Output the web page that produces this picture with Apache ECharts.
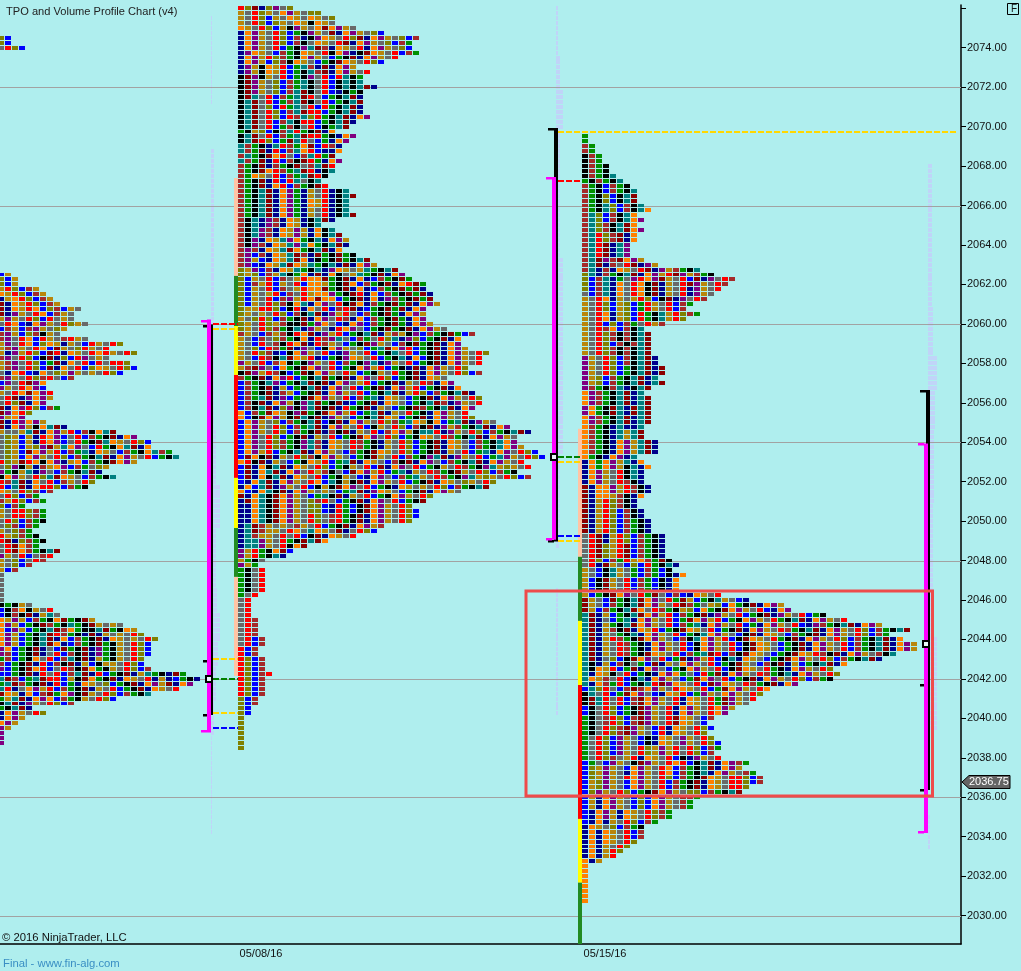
<!DOCTYPE html>
<html><head><meta charset="utf-8">
<style>html,body{margin:0;padding:0;background:#afeeee}#c{width:1021px;height:971px}</style>
<script src="https://cdn.jsdelivr.net/npm/echarts@6/dist/echarts.min.js"></script>
</head><body><div id="c"></div>
<script>
// ---- axis content
const priceLabels = [2030,2032,2034,2036,2038,2040,2042,2044,2046,2048,2050,2052,2054,2056,2058,2060,2062,2064,2066,2068,2070,2072,2074];
const priceTicks = priceLabels.concat([2076]);
const gridPrices = [2030,2036,2042,2048,2054,2060,2066,2072];
const dateLabels = ['05/08/16','05/15/16'];
const datePositions = [261,605];
const lastPrice = 2036.75;

// ---- TPO letter colours (the cycle of periods)
const letters = 'gktmnOpGyroBb';
const letterColours = ['#009000','#000000','#008080','#8b0000','#00008b','#ff8000','#800080','#b8860b','#696969','#ff0000','#808000','#0000ff','#a52a2a'];

// ---- profile A (left, cut by the edge)
const widthsA0 = [2,2,4];
const bandsA0 = {0:'oB',2:'yroB'};
const widthsA = [2,3,3,6,7,8,9,12,11,11,13,10,9,13,18,16,20,16,19,20,18,11,7,7,8,8,7,9,5,4,7,10,17,20,22,22,25,26,20,16,15,17,14,13,8,6,7,4,7,7,7,6,5,6,7,6,9,8,7,5,3,1,1,1,1,1,1,
  5,8,9,14,18,20,21,23,22,22,22,21,21,22,27,29,28,26,22,17,11,5,7,4,3,2,1,1,1];
const bandsA = {0:'BG',1:'oBG',3:'GroBbG',4:'OGroBbG',5:'nGOroBbG',6:'mnOGroBbG',7:'mnOGrOBobBGy',8:'mnpGyrOBbGyr',9:'GpGyroBryGyr',10:'yrOBnOpGyroG',
 11:'BbGBbpGyoG',12:'bpGBobkGyG',13:'bpyrOBrGybrG',14:'GpyrOBoOGnGyBrG',15:'GbpGyrOBmGyorG',16:'GnpGroBmrnOGyrOrGy',17:'bpyroBkmnoBrpyG',18:'GbpyroBgmnOyrBryrr',
 19:'GbpyroBmnOyrBoOGyr',20:'ynOrBnOyoGpGyGyr',21:'bpGyrobryB',22:'BpyrmpOr',23:'pGyrOpBr',24:'GyrOmOpr',25:'yrmnpO',26:'yromnOpr',27:'mnOpr',28:'mpOr',29:'pGO',30:'mnrpOp',31:'mnOpGkOt',
 32:'GyyGtmnOpGrBbkOt',33:'yoGBGnrOpByrBbgkmnO',34:'yoGBGnrOpByrgkmtOG',35:'yoGBGopmGtOpyBrgkOt',36:'yoGBmOpGrBbgtnOGyBbgkOtb',37:'yoGBOpGyroBbgktmnOpGyrBg',38:'roGmrOkOpnGOBbgkmO',39:'yopkGnbGOpBbgyoG',40:'pgkGtnpyBbgkt',41:'kOpGyrotmOGyB',42:'rbtmnOyrBbG',43:'rBtmnOrroBb',44:'OGyrobB',45:'yroBb',46:'bGroBb',47:'oBb',48:'Gyrrob',50:'yroBb',51:'yobB',
 52:'Gyob',53:'rGob',54:'rmnob',55:'yrmOb',57:'pGyrBybr',58:'GyoByrb',59:'GyoBb',60:'GB',61:'y',
 67:'kgkGy',68:'BkbOkGy',69:'BkbkmnGty',70:'OGpGBbgkOmgkmGy',71:'OpGBgkmbgktgkmGyG',72:'OBpGBgktmbOgkktmgkOGy',73:'OpGBgktmrbgknmnGyG',74:'OpGBgktmnOBbgkmnOGyG',
 75:'OpGBgktmOnBbgkmgkGy',76:'pOBgkmnyBmgkmnpgkGy',77:'pbBgkmnyrBbkmnpgkGy',78:'gbBgkOyrBbtkmnGgkG',79:'bBgkmnrBbkmnGBkGG',80:'pBgkmOrByrbkmOgkGy',81:'BBgkmnryrBbtmnrBgkmnGtgknmgktmn',82:'tmbBgtmrrBGkmOgkmnOGyrnGnBgknG',83:'gtmbgkmnrBgnOGyoBgkmnOpGmnO',84:'trnyOpGrBbgkmnGyrBgkmnOG',85:'mOGnOBbmgOpkmG',86:'gGtmnOpOBbgkG',87:'ktmnp',88:'gktmnOp',89:'nOp',90:'nOp',91:'Op',92:'p'};

// ---- profile B (05/08/16)
const widthsB = [8,12,14,14,17,21,26,25,25,26,23,21,17,19,18,18,20,18,18,18,18,18,19,17,16,14,17,16,15,15,14,15,14,14,13,12,13,16,17,16,
 16,16,17,14,12,14,15,16,16,15,17,19,20,23,24,25,27,27,28,28,29,27,27,27,28,30,34,32,32,33,36,35,35,33,35,30,31,32,34,35,35,34,33,34,37,39,42,40,40,41,43,44,41,42,40,42,37,36,32,28,27,25,26,26,25,21,20,17,13,10,8,7,4,3,4,4,4,4,4,3,2,2,2,
 2,3,3,3,3,4,4,3,3,4,4,4,5,4,4,4,4,3,3,2,2,1,1,1,1,1,1,1];
const bandsB = {0:'romnopyo',1:'GyroGyOpGyoo',2:'GyroBGyOGyOGyo',3:'GyroBoGyOGkOGyo',4:'OGyroBGkpGyOmOpGyo',5:'nOpGyroBgkpGymnOpGyo',6:'nOpGyroBbnkpOGyromnOpGyoB',7:'nOpGyroBbkyOGyrmnOpGyoBb',8:'nOpGyrBgkptmbnOGyrnOpGyoB',9:'npOGyBbgkOGyrkOpnkmOGyrB',10:'nOpGrobgkOpGyBgkmnOpGyr',11:'nOpGBobkOGyBgkmOGyr',12:'npGkOGrBgtbnmnOpGy',13:'npGkOGrBgktbmnOpGyr',14:'kmpkGyrBgkpyrBrtkg',15:'kmpGyoBbgtkyrBktk',
 17:'kmpGyoBbtmkyrBnkg',18:'kmtyrBbgtmryBgkt',19:'ktmyrBgbtmkyrBgkt',20:'ktmyoBrgtyrBrgkt',21:'ktmyroBbtmrrBgkt',22:'ktmyroBrbtorgkt',23:'ktmyrBbtkrrBgk',24:'ktmyrBgbkyrBkgt',25:'gkGoBkbtrgkmn',26:'ktmyrBbgtmrrgkn',27:'ktmroBgmtryBgn',28:'tbgkntrbgOmBrbnn',29:'tbgmnrBbtOrBnn',30:'btgkmOryBbtrgmn',31:'tbgmnrBbkmrgn',32:'bgkmnbgkmybtmrnk',33:'bgkmOrbgtmrnk',34:'bgOGyrBbgtmrk',35:'bgkmnrBrtyk',36:'bgkmnOrBbgkmrnk',
 37:'bgktmnOpgnGyrnk',39:'bgktmnOpgnOGrnk',41:'bgktmnOpgnGyrnk',43:'bktnpbnOGnkt',44:'bktnpbnOGnkt',45:'bktpbnOGpGnOkt',47:'bkpnOGtpOgktn',48:'bkpbnOGtptOgkt',49:'bpbnOGtmOgkt',50:'bpBbnOGtmbnmgkmg',51:'bpGBnOGtmOnkgkmg',52:'bpBnOGtmOGtgktnm',53:'oGpBbnOGtgktnpOGyGtgk',54:'oGoBbGtkgOnmnOkyGtgkm',55:'oBGyrBbyGrOOmgkmnOnBbgkmgmn',56:'oBbGrBGyrBOOGgkmOBbgkmnOrmgmn',57:'oBGyrBbyGrOOmgkmnOnBbgkmgmn',58:'oBGyGrBbyrGOOpgkmrnOBbgkmgmnn',59:'oBGyrBbpGrOmOOBgkmnOnpbgkmgmnn',60:'oBGyrobkOtnOpyrkmOnbgkmgmn',61:'oGGrroBkrnOyrBbrmnBgkmgmn',62:'oGyGyroBbktmnpGryBbgkmgn',63:'GyoroBbgkmnOpyrbnOBbgkmgn',64:'oGyroGbkkmgpOyBnOpBbgkmgn',65:'oGyrobgktnpGynrOpyBgkmgkmnO',
 66:'bGyBbGbkrOmnpGrBgktmnGbGkpBbgkmgBbgkmn',67:'GyBbyobgkOnrbptyBbgyrotnpoBgkmn',68:'GyBrybkrOmnrbGyBgkmpGyBbkmgkmn',69:'GyoBrbgmnpyBkOpGyoBgtmOprBgkmnO',70:'GyrobnBkOpGyrBnpGyrBgktyrBgkmnOp',71:'GyBrbktmOGrnBgkpOGyrBgktnOBkmnOp',72:'pGyrBbOkgkpGyrBbgkptnpGyrBgkmnOp',73:'GbmpyBOgkmOpyrBgkOpGrBgknmnOp',74:'kmpGrbkBgmkOpGyroBgkGyrgkmnOp',75:'bgkmnOprBgktmgkmnOpyroBgkmnOGyrBnm',76:'BbgktpBgktmkmnOpyGrBgkmnGyrbn',77:'BbgkmnGBgktmnOpyrBgkmnOpGrBgkmn',78:'BbgkmnbGBgkmnOpGyrBgktmnGroBbgktm',79:'BbgtmnpBgkmOpGyrBbgtnOGyBgkmnO',80:'BbkmnOpGkptmgkmnBgkmnOGyBgktmbnp',81:'Bbktmnopkptmkmnrgkmn GyBgkmb'.replace(' ',''),82:'OBbgmOGkpmgkmOpGrBgtmnGyrgkn',83:'OBkmOpGkmtkmnpGyBgktmOGBgkmnOp',
 84:'BOpGyoBbgktmBkmnOpGyrobgtOGkOBgtmnpG',85:'BOpGyroBbgtmnOpGyrBkGyroBbkmnpGb',86:'BOpGyroBbgkmnbkmnGyrBbOpGkttrnpG',87:'BOpyroBgkmnGyrBgkmOpyroBgkOGyrb',88:'BOpyrobgkptbnOGyrbgknGyroBgkmnOGyBbgktOpG',90:'BOpGrBgktmnOpGyBbgkmOGyroBgkmnGyrBgtnOpy',91:'BmOkmnGyrobkOpGyBgkmGyrBbgkptmnpGyrBgtpGy',92:'OrkmnGyBgkOGrBgtmnOGyBbkmnOpyB',93:'BmnOktmnOGyroBgkGyrBmnOpyrBgkGyrbgkptGoG',94:'BmnOtmnOpyrGbkyBmOpGrBgtnGyrbgkmG',95:'BmnOktmnOGyrBgkGyBnOpyBbgtGyrbgkptGoG',96:'BnOtmnOpGyrOBtkGkmnOpGyrBgkmnOGyoG',97:'nOBtmnpGyrBkGkmOpyrBgknOGyG',98:'OBnOtkmnOpGyGyBgtmnpOGyBgkmnOpGyrot',99:'mnOtkmOpGyBgtkmnGyrBgkOpGy',100:'nmOtkmOpGyobryBgkmnOpyrBgkmOp',101:'nnOtkmOpGyooBnrgBkmOpGy',103:'nnOtkmOpGyroybrgkmnOpGy',105:'ntmbGyGybGyrBgkmnOpGby',106:'ntmbGGyrOytOGymny',107:'ntbGGyryrBkmnOGy',108:'nttpGyrgkmtmOGy',109:'nttpGyrkOm',110:'pGrgkOmBOr',111:'pGrgktnBy',112:'Ggky',113:'pGgk',114:'gkyr',119:'gyr',120:'yr',124:'yrb',128:'yrBb',130:'rBb',132:'roBb',135:'roBbr',136:'roBb',140:'oBb',142:'oB',144:'o'};

// ---- profile C (05/15/16)
const widthsC = [1,1,2,2,3,3,4,4,5,6,7,8,8,8,9,10,8,9,8,9,8,8,7,7,7,9,11,17,19,22,21,20,19,18,16,15,17,15,
 12,9,10,10,10,10,10,11,11,12,12,11,12,10,9,10,10,10,10,10,10,9,9,9,11,11,11,8,9,10,9,9,9,10,10,9,8,8,9,9,10,10,10,12,12,12,12,12,13,14,13,15,14,14,14,
 20,24,29,30,35,38,43,47,44,46,48,48,45,43,38,36,37,36,31,27,26,25,24,22,21,19,18,19,18,19,20,20,19,20,24,23,25,26,26,24,23,17,16,16,13,13,11,9,9,9,8,7,6,5,3,1,1,1,1,1,1,1,1];
const bandsC = {0:'g',2:'bg',4:'kbg',6:'kbgk',8:'kbgkt',9:'gkbgkt',10:'bgkBbgkt',12:'bgkoBkt',14:'bgktoBbktt',15:'bgktoBbktO',16:'btoBbktO',18:'btobktmO',20:'btrobmnO',22:'btrmntp',25:'btmpbmOp',26:'btmnbyrmnpG',27:'btnbnOGyrmnpGb',28:'otnbgktmnOpGrmpGb',29:'oBbtngyprOpmGyrBmnpyrb',30:'oBbtnOyrOkmnGyrmpGyrb',31:'oBbtnOyrOkmnGyrnpGyr',32:'yBbtnOyrOkmnGyrnpGyrb',33:'GyrOnGyGroBkmnpyrb',34:'GyroBGoBgrGyrBb',36:'GyrOnGoBrgktGrob',38:'GyrBoBbgyrGb',39:'GyrbOBbkt',40:'Gyrobkbktmn',42:'GyroBbkbtmn',43:'Gyrobkbktmn',45:'pGyroBbktmn',47:'pGyroBgktmnm',49:'pGoBbgktmntm',51:'pbgkbtnktm',52:'Opbgktmnt',53:'Opbgktmntm',55:'pOgkmtnmt',57:'Opbgktmntm',59:'Obgkntnnt',60:'ObgkntGtm',62:'ObgknOpGtmn',65:'OgknOpnt',66:'nOgOpGtn',67:'nOgOpGktn',68:'nOpGyrktn',70:'nOpGyrbkn',71:'mnOOpGrbkn',73:'mnOOGbkn',74:'mnGrobkn',76:'mnGroBbkn',78:'mnGroBbgkn',81:'yrmnGroBbgkn',83:'yrmoGrmBbgkn',86:'yroBbgrGObgmkn',87:'yrnmGyBoBrgktnn',88:'GyBktGygBbgBkn',90:'GBkmGyrBbgBkn',93:'GBgkmOpyrgmyBbBnOGyrBgkpGrb',94:'mGyBmgktmOpyrgmGBgktGyBn',95:'mGyBbgktmOpGyrmbgyGoBOgkmnOpGy',96:'mGBbgktmOyrbgkGoBOgkmOpGyrBn',97:'tmnGBgktmOpGrBbgkmnpGyrBgkmnpGyrBg',98:'tmnyBgtnOpGyrBgmOpGrBgkOpGyrg',99:'tmnGgktmOpGyrBbgtnOpGyrBgnOpGyrBnpb',100:'tmnGbkmnOGrBgkmOGyrBgkmnOpGyrb',101:'tmnGygktnOpGyrBgktOpGyBkmnOGyBbgkmn',102:'tmnGrbgkmOpGyBbktOpGrBkmOGyrgkmnOp',103:'tmnGyrbgknOpGyrBkOpGyrBkmOGyBgkmnOpGyrBbgktmnOpGyrbtm',105:'tmnGyrbgkmOGyrBbgtmrBbkmOGyBgkmOGrbkmnOpGybkt',106:'tmnyoBkmOpyrBgmnpGrBktnOGyBgkmOp',107:'tknGBbkygBmnGyOpGyrBgkmGyBbkmnGBgkt',108:'tkOGrBgmnOpyBgkOpGyrBkmOGyrgkn',109:'tnOGkyrBgknOpOgyBrgmnOpGyrbgktn',110:'tOGbyrBktnOpGyBgmOpyrBgkmnO',111:'tnObgrBgktrmpOGyrBmpOGyrbgkmnO',112:'BtoryBbmbOpGyrOGyrBgmOpGyrO',113:'ktyrBgmOpyBnOGrBgpGyO',114:'kmtryrBbmOpGyrnOGyrgmpGy',116:'BkyroBgkmpGyrnOpGyrO',118:'gkybroBbmpGyrmOGyB',120:'gkyrobmpGyBrnOGy',122:'gyroBpGyBknOGyp',124:'gyroBpGyroGpGryr',126:'gyrobyGrnOGyrBknp',127:'BgyBpGykmpGyrOrBktmnOpb',128:'BoGpGyBOpGyrOBbgkt',129:'BoGpGynOpGyrOBbgktnOpGyb',130:'BoGpGyrOpGyroBbgkmOGyrr',131:'BGopGyBOpGyrBbgkmnOGyrr',133:'BopGyroBgkmOpGyoo',134:'BGnOpGyBoBOpGybb',135:'BGnOpGyBoBOpGyb',137:'BnOpGnOGyrob',139:'BnOnGyroBb',140:'nOGyoB',141:'nOnOGyrB',143:'nOnOGyro',144:'nOnGyr',145:'nOnGr',147:'OnG',148:'O'};

// ---- volume profiles: [rows, width] runs from the top row down
const volumeA = [[18,1],[9,0],[57,3],[11,5],[9,9],[12,5],[5,6],[6,9],[5,7],[7,5],[7,3],[20,1]];
const volumeC = [[10,2],[7,4],[8,7],[26,4],[40,7],[15,4],[4,3],[8,0],[26,2]];
const volumeD = [[29,4],[10,5],[7,9],[8,7],[15,6],[27,5],[19,9],[17,0],[7,2]];

// ---- vertical colour strips: [x0, x1, priceHigh, priceLow, colour]
const strips = [
 [234,238,2067.39,2062.43,'#ffc4a4'],[234,238,2062.43,2059.89,'#228b22'],[234,238,2059.89,2057.41,'#ffff00'],[234,238,2057.41,2052.19,'#ff0000'],[234,238,2052.19,2049.65,'#ffff00'],[234,238,2049.65,2047.17,'#228b22'],[234,238,2047.17,2042.15,'#ffc4a4'],
 [578,582,2054.68,2048.19,'#ffc4a4'],[578,582,2048.19,2044.94,'#228b22'],[578,582,2044.94,2041.69,'#ffff00'],[578,582,2041.69,2034.90,'#ff0000'],[578,582,2034.90,2031.67,'#ffff00'],[578,582,2031.67,2028.56,'#228b22']];
// range bars: [x0, x1, priceHigh, priceLow, colour]
const rangeBars = [
 [209,213,2059.97,2040.17,'#000000'],[207,211,2060.22,2039.31,'#ff00ff'],
 [554,558,2069.93,2048.97,'#000000'],[552,556,2067.44,2049.05,'#ff00ff'],
 [926,930,2056.65,2036.37,'#000000'],[924,928,2053.93,2034.19,'#ff00ff']];
// caps: [x0, x1, price, colour]
const caps = [
 [203,207,2059.9,'#000000'],[203,207,2042.91,'#000000'],[203,207,2040.17,'#000000'],[201,211,2060.16,'#ff00ff'],[201,211,2039.38,'#ff00ff'],
 [548,554,2069.88,'#000000'],[548,554,2049.0,'#000000'],[546,552,2067.4,'#ff00ff'],[546,552,2049.09,'#ff00ff'],
 [920,926,2056.6,'#000000'],[920,924,2041.69,'#000000'],[920,924,2036.37,'#000000'],[918,924,2053.9,'#ff00ff'],[918,924,2034.22,'#ff00ff']];
// dashed levels: [x0, x1, price, colour]
const levels = [
 [213,238,2060,'#ff0000'],[213,238,2059.75,'#ffd700'],[213,238,2043,'#ffd700'],[213,238,2042,'#008000'],[213,238,2040.25,'#ffd700'],[213,238,2039.5,'#0000ff'],
 [558,958,2069.75,'#ffd700'],[558,582,2067.25,'#ff0000'],[558,582,2053.25,'#008000'],[558,582,2053,'#ffd700'],[558,582,2049.25,'#0000ff'],[558,582,2049,'#ffd700']];
const pocMarks = [[208.5,2042],[553.5,2053.25],[925.5,2043.75]];
const focusBox = [[526,2046.46,932.5,2036.06]];

// ---- build mark tables from the arrays
function codesFor(bands, row, n){
  let key = row; while(key>=0 && bands[key]===undefined) key--;
  const s = key>=0 ? bands[key] : 'g', out=[];
  for(let i=0;i<n;i++){
    if(i<s.length) out.push(letters.indexOf(s[i]));
    else out.push((out[i-1]+1)%13);
  }
  return out;
}
function cellsFor(x0, topPrice, widths, bands){
  const out=[];
  widths.forEach((w,row)=>{
    const codes=codesFor(bands,row,w);
    for(let c=0;c<w;c++) out.push([x0+7*c, topPrice-0.25*row, codes[c]]);
  });
  return out;
}
const cells = [].concat(
  cellsFor(-2,2074.5,widthsA0,bandsA0),
  cellsFor(-2,2062.5,widthsA,bandsA),
  cellsFor(238,2076,widthsB,bandsB),
  cellsFor(582,2069.5,widthsC,bandsC));
function volumeRows(x0, topPrice, runs){
  const out=[]; let row=0;
  runs.forEach(([count,w])=>{ for(let i=0;i<count;i++,row++) if(w>0) out.push([x0,x0+w,topPrice-0.25*row]); });
  return out;
}
const volumes = [].concat(volumeRows(211,2075.5,volumeA),volumeRows(556,2076,volumeC),volumeRows(928,2068,volumeD));

const FONT='"Liberation Sans",Arial,sans-serif';
const noAnim={animation:false,silent:true,clip:true,xAxisIndex:0,yAxisIndex:0};
const chart=echarts.init(document.getElementById('c'),null,{renderer:'canvas'});
chart.setOption({
 animation:false,
 backgroundColor:'#afeeee',
 grid:{left:0,top:5,width:961,height:939,containLabel:false},
 xAxis:{type:'value',min:0,max:961,
   axisLine:{show:true,onZero:false,lineStyle:{color:'#000',width:1.5}},axisTick:{show:false},splitLine:{show:false},
   axisLabel:{customValues:datePositions,formatter:v=>dateLabels[datePositions.indexOf(v)],color:'#111',fontFamily:FONT,fontSize:11,margin:4,hideOverlap:false}},
 yAxis:{type:'value',position:'right',min:2028.56,max:2076.165,
   axisLine:{show:true,onZero:false,lineStyle:{color:'#000',width:1.5}},
   axisTick:{show:true,length:5,lineStyle:{color:'#000',width:1},customValues:priceTicks},splitLine:{show:false},
   axisLabel:{customValues:priceLabels,formatter:v=>v.toFixed(2),color:'#111',fontFamily:FONT,fontSize:11,margin:6,hideOverlap:false}},
 series:[
  {type:'custom',name:'volume',...noAnim,z:1,data:volumes,renderItem:(p,api)=>{
    const a=api.coord([api.value(0),api.value(2)]),b=api.coord([api.value(1),api.value(2)]);
    return {type:'rect',shape:{x:a[0],y:Math.round(a[1]-2),width:b[0]-a[0],height:4},style:{fill:'#c0d4f8'}};}},
  {type:'custom',name:'grid',...noAnim,z:2,data:gridPrices.map(p=>[p]),encode:{y:0},renderItem:(p,api)=>{
    const a=api.coord([0,api.value(0)]),b=api.coord([961,api.value(0)]);
    return {type:'rect',shape:{x:a[0],y:Math.round(a[1]),width:b[0]-a[0],height:1},style:{fill:'#a2a2a2'}};}},
  {type:'custom',name:'strips',...noAnim,z:3,data:strips,renderItem:rectItem},
  {type:'custom',name:'tpo',...noAnim,z:4,data:cells,renderItem:(p,api)=>{
    const a=api.coord([api.value(0),api.value(1)]),s=api.size([6,0.25]);
    const top=Math.round(a[1]-2), next=Math.round(a[1]-2+s[1]);
    return {type:'rect',shape:{x:Math.round(a[0]),y:top,width:s[0],height:next-top-1},style:{fill:letterColours[api.value(2)]}};}},
  {type:'custom',name:'levels',...noAnim,z:5,data:levels,renderItem:(p,api)=>{
    const a=api.coord([api.value(0),api.value(2)]),b=api.coord([api.value(1),api.value(2)]);
    return {type:'line',shape:{x1:a[0],y1:Math.round(a[1]),x2:b[0],y2:Math.round(a[1])},style:{stroke:api.value(3),lineWidth:2,lineDash:[6,2]}};}},
  {type:'custom',name:'ranges',...noAnim,z:6,data:rangeBars,renderItem:rectItem},
  {type:'custom',name:'caps',...noAnim,z:6,data:caps,renderItem:(p,api)=>{
    const a=api.coord([api.value(0),api.value(2)]),b=api.coord([api.value(1),api.value(2)]);
    return {type:'rect',shape:{x:a[0],y:Math.round(a[1]-1),width:b[0]-a[0],height:2.5},style:{fill:api.value(3)}};}},
  {type:'custom',name:'poc',...noAnim,z:7,data:pocMarks,renderItem:(p,api)=>{
    const a=api.coord([api.value(0),api.value(1)]);
    return {type:'rect',shape:{x:Math.round(a[0])-3,y:Math.round(a[1])-3,width:6,height:6},style:{fill:'#e8f8f8',stroke:'#000',lineWidth:2}};}},
  {type:'custom',name:'focus',...noAnim,z:8,data:focusBox,renderItem:(p,api)=>{
    const a=api.coord([api.value(0),api.value(1)]),b=api.coord([api.value(2),api.value(3)]);
    return {type:'rect',shape:{x:a[0],y:a[1],width:b[0]-a[0],height:b[1]-a[1]},style:{fill:'none',stroke:'#ee4b4b',lineWidth:3}};}},
  {type:'custom',name:'last',animation:false,silent:true,clip:false,z:9,data:[[961,lastPrice]],renderItem:(p,api)=>{
    const a=api.coord([api.value(0),api.value(1)]),x=a[0],y=Math.round(a[1]);
    return {type:'group',children:[
      {type:'polygon',shape:{points:[[x+1,y],[x+8,y-6.5],[x+49,y-6.5],[x+49,y+6.5],[x+8,y+6.5]]},style:{fill:'#646464',stroke:'#000',lineWidth:1}},
      {type:'text',style:{x:x+8,y:y,text:api.value(1).toFixed(2),fill:'#fff',font:'11px '+FONT,verticalAlign:'middle'}}]};}}
 ],
 graphic:[
  {type:'text',x:6,y:6,silent:true,style:{text:'TPO and Volume Profile Chart (v4)',fill:'#222',font:'11.1px '+FONT}},
  {type:'text',x:2,y:932,silent:true,z:20,style:{text:'© 2016 NinjaTrader, LLC',fill:'#111',font:'11.3px '+FONT}},
  {type:'text',x:3,y:958,silent:true,style:{text:'Final - www.fin-alg.com',fill:'#3a8fc4',font:'11.3px '+FONT}},
  {type:'rect',x:1007.5,y:3.5,silent:true,shape:{x:0,y:0,width:11,height:11},style:{fill:'none',stroke:'#000',lineWidth:1}},
  {type:'text',x:1011,y:4,silent:true,style:{text:'F',fill:'#111',font:'10px '+FONT}}
 ]
});
function rectItem(p,api){
  const a=api.coord([api.value(0),api.value(2)]),b=api.coord([api.value(1),api.value(3)]);
  return {type:'rect',shape:{x:a[0],y:a[1],width:b[0]-a[0],height:b[1]-a[1]},style:{fill:api.value(4)}};
}
</script></body></html>
